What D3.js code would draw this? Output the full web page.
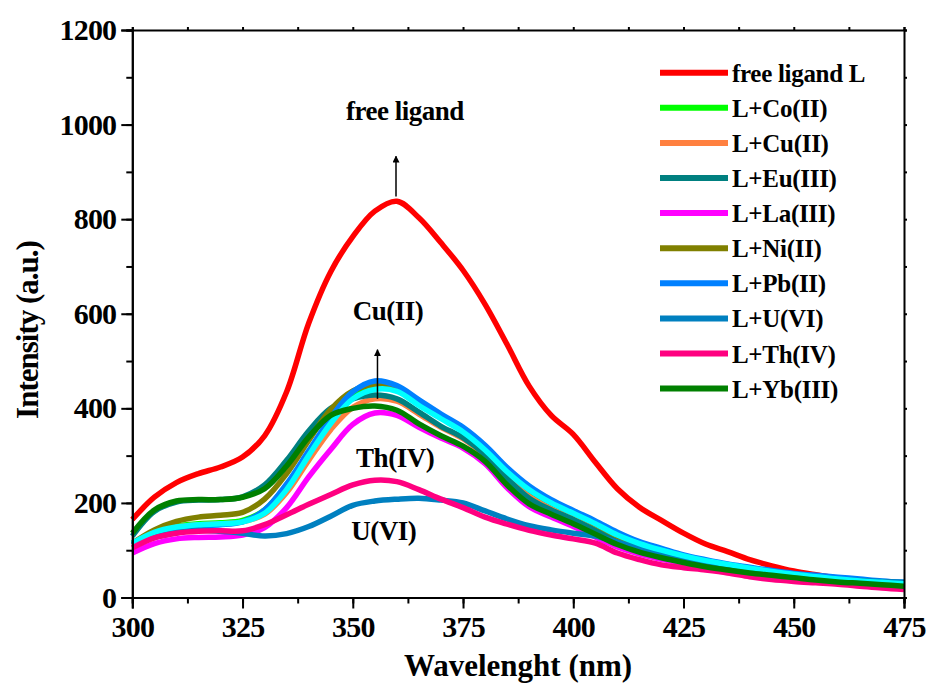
<!DOCTYPE html>
<html>
<head>
<meta charset="utf-8">
<script src="https://cdn.jsdelivr.net/npm/d3@7"></script>
<style>
  body { margin: 0; background: #fff; }
  text { font-family: "Liberation Serif", "Times New Roman", serif; font-weight: bold; }
</style>
</head>
<body>
<div class="chart-container1"></div>
<script>

// wavelength grid (nm)
const wavelengths = [300,305,310,315,320,325,330,335,340,345,350,355,360,365,370,375,380,385,390,395,400,405,410,415,420,425,430,435,440,445,450,455,460,465,470,475];

// intensities
const freeL = [165,212,243,262,276,297,342,435,580,689,763,817,838,803,750,692,620,535,447,385,345,286,230,191,163,136,113,97,80,67,56,48,41,35,29,23];
const coII  = [113,138,151,156,158,163,185,238,305,373,425,445,440,410,382,352,312,265,225,198,176,153,128,110,96,84,74,66,59,52,46,41,37,33,30,27];
const cuII  = [112,136,149,154,156,160,176,222,290,355,402,420,415,388,360,336,300,254,214,188,167,145,121,103,90,79,70,62,56,50,45,40,36,32,29,26];
const euIII = [130,182,202,206,207,213,238,290,352,400,420,428,420,392,362,338,302,252,210,185,165,142,118,100,88,78,69,62,56,50,45,40,36,32,29,26];
const laIII = [94,114,124,127,128,132,148,190,255,313,366,390,385,360,337,316,283,232,192,170,150,128,107,92,81,72,64,57,51,46,41,36,32,29,26,23];
const niII  = [115,143,161,170,174,180,208,262,332,398,437,450,445,414,385,355,315,268,228,200,178,155,130,112,98,86,76,68,61,54,48,43,38,34,31,28];
const pbII  = [112,134,147,152,154,160,185,240,310,380,435,458,448,418,388,360,322,275,236,207,184,162,138,118,104,90,80,71,64,57,51,47,43,39,35,32];
const uVI   = [110,127,137,142,140,136,130,135,150,172,195,204,208,210,206,200,183,166,152,143,136,130,117,104,92,80,71,64,58,52,47,42,38,36,34,32];
const thIV  = [105,126,136,140,141,141,154,175,197,218,238,248,245,228,208,190,170,155,142,132,124,115,94,80,69,63,58,52,44,38,34,31,28,24,20,17];
const ybIII = [136,185,204,207,207,212,230,278,339,385,400,405,396,367,342,320,288,238,198,176,156,134,112,96,84,74,65,58,52,47,42,37,33,30,27,24];
const extra = [115,138,149,154,156,160,178,228,300,368,420,440,436,406,378,350,312,266,228,200,178,156,132,114,100,88,78,70,62,55,49,44,39,35,32,29];

const legendNames = ["free ligand L","L+Co(II)","L+Cu(II)","L+Eu(III)","L+La(III)","L+Ni(II)","L+Pb(II)","L+U(VI)","L+Th(IV)","L+Yb(III)"];
const colors = ["#ff0000","#00ff00","#ff8040","#008080","#ff00ff","#808000","#0080ff","#0080c0","#ff0080","#008000"];

const xTicks = [300,325,350,375,400,425,450,475];
const yTicks = [0,200,400,600,800,1000,1200];

const width = 932, height = 691;

const svg = d3.select(".chart-container1").append("svg")
  .attr("width", width)
  .attr("height", height);

const x = d3.scaleLinear().domain([300,475]).range([132.3,904]);
const y = d3.scaleLinear().domain([0,1200]).range([597.5,30]);

// curves, drawn roughly in the stacking order seen in the figure
let series = [
  {vals: freeL, color: colors[0]},
  {vals: coII,  color: colors[1]},
  {vals: cuII,  color: colors[2]},
  {vals: euIII, color: colors[3]},
  {vals: laIII, color: colors[4]},
  {vals: niII,  color: colors[5]},
  {vals: pbII,  color: colors[6]},
  {vals: uVI,   color: colors[7]},
  {vals: extra, color: "#00ffff"},
  {vals: thIV,  color: colors[8]},
  {vals: ybIII, color: colors[9]}
];

const line = d3.line()
  .x((d,i) => x(wavelengths[i]))
  .y(d => y(d))
  .curve(d3.curveCatmullRom.alpha(0.5));

svg.append("g")
  .selectAll("path")
  .data(series)
  .join("path")
  .attr("d", d => line(d.vals))
  .attr("fill", "none")
  .attr("stroke", d => d.color)
  .attr("stroke-width", 5.5)
  .attr("stroke-linejoin", "round");

// axes
function styleAxis(g){
  g.select(".domain").attr("stroke", "#000").attr("stroke-width", 2);
  g.selectAll(".tick line").attr("stroke", "#000").attr("stroke-width", 2);
}

const xMinor = d3.range(300, 476, 12.5);
const yMinor = d3.range(0, 1201, 100);

svg.append("g")
  .attr("transform", `translate(0,${y(0)})`)
  .call(d3.axisBottom(x).tickValues(xMinor).tickSize(6).tickFormat(""))
  .call(styleAxis);

svg.append("g")
  .attr("transform", `translate(0,${y(0)})`)
  .call(d3.axisBottom(x).tickValues(xTicks).tickSize(11).tickPadding(7).tickFormat(d3.format("d")))
  .call(styleAxis)
  .call(g => g.selectAll("text").attr("font-size", 30).attr("fill", "#000").attr("font-family", null).attr("letter-spacing", -0.8));

svg.append("g")
  .attr("transform", `translate(${x(300)},0)`)
  .call(d3.axisLeft(y).tickValues(yMinor).tickSize(6).tickFormat(""))
  .call(styleAxis);

svg.append("g")
  .attr("transform", `translate(${x(300)},0)`)
  .call(d3.axisLeft(y).tickValues(yTicks).tickSize(11).tickPadding(5).tickFormat(d3.format("d")))
  .call(styleAxis)
  .call(g => g.selectAll("text").attr("font-size", 30).attr("fill", "#000").attr("font-family", null).attr("letter-spacing", -0.8));

svg.append("g")
  .attr("transform", `translate(0,${y(1200)})`)
  .call(d3.axisTop(x).tickValues(xMinor).tickSize(3).tickFormat(""))
  .call(styleAxis);

svg.append("g")
  .attr("transform", `translate(${x(475)},0)`)
  .call(d3.axisRight(y).tickValues(yMinor).tickSize(3).tickFormat(""))
  .call(styleAxis);

// axis titles
svg.append("text")
  .attr("x", 518)
  .attr("y", 676)
  .attr("text-anchor", "middle")
  .attr("font-size", 31)
  .text("Wavelenght (nm)");

svg.append("text")
  .attr("transform", "translate(38,330) rotate(-90)")
  .attr("text-anchor", "middle")
  .attr("font-size", 31)
  .attr("letter-spacing", -1)
  .text("Intensity (a.u.)");

// legend
const legend = svg.append("g")
  .selectAll("g")
  .data(legendNames)
  .join("g")
  .attr("transform", (d,i) => `translate(660,${72.7 + i*35.1})`);

legend.append("line")
  .attr("x1", 0).attr("x2", 68)
  .attr("stroke", (d,i) => colors[i])
  .attr("stroke-width", 6);

legend.append("text")
  .attr("x", 72)
  .attr("y", 9)
  .attr("font-size", 25)
  .attr("letter-spacing", -0.3)
  .text(d => d);

// annotations
svg.append("defs").append("marker")
  .attr("id", "arrow")
  .attr("viewBox", "0 0 10 10")
  .attr("refX", 9).attr("refY", 5)
  .attr("markerWidth", 7).attr("markerHeight", 7)
  .attr("markerUnits", "userSpaceOnUse")
  .attr("orient", "auto")
  .append("path")
  .attr("d", "M0,0 L10,5 L0,10 Z")
  .attr("fill", "#000");

const arrows = [
  {w: 359.8, from: 848, to: 933},
  {w: 355.6, from: 420, to: 524}
];

svg.selectAll(".arrow")
  .data(arrows)
  .join("line")
  .attr("class", "arrow")
  .attr("x1", d => x(d.w)).attr("x2", d => x(d.w))
  .attr("y1", d => y(d.from)).attr("y2", d => y(d.to))
  .attr("stroke", "#000")
  .attr("stroke-width", 1.5)
  .attr("marker-end", "url(#arrow)");

const notes = [
  {w: 361.8, v: 1010, label: "free ligand"},
  {w: 358.0, v: 587, label: "Cu(II)"},
  {w: 359.6, v: 277, label: "Th(IV)"},
  {w: 357.0, v: 122, label: "U(VI)"}
];

svg.selectAll(".note")
  .data(notes)
  .join("text")
  .attr("class", "note")
  .attr("x", d => x(d.w))
  .attr("y", d => y(d.v))
  .attr("text-anchor", "middle")
  .attr("font-size", 27)
  .attr("letter-spacing", -0.5)
  .text(d => d.label);

</script>
</body>
</html>
